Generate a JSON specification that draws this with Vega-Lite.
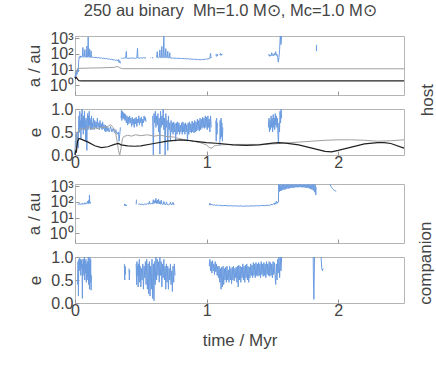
{
"$schema": "https://vega.github.io/schema/vega-lite/v6.json",
"background": "white",
"padding": {"left": 24, "top": 3, "right": 0, "bottom": 2},
"config": {
  "font": "Liberation Sans",
  "view": {"stroke": "#b5b5b5", "strokeWidth": 1},
  "axis": {"domain": false, "grid": false, "tickColor": "#9a9a9a", "tickSize": -4, "labelFont": "Liberation Sans", "labelFontSize": 16, "labelColor": "#444", "titleFont": "Liberation Sans", "titleFontSize": 17, "titleFontWeight": "normal", "titleColor": "#444", "labelPadding": 6, "titlePadding": 6, "labelFlush": false, "labelOverlap": false},
  "line": {"strokeWidth": 1, "clip": true}
},
"title": {"text": "250 au binary\u00a0 Mh=1.0 M⊙, Mc=1.0 M⊙", "anchor": "middle", "fontSize": 16.5, "fontWeight": "normal", "color": "#444", "font": "Liberation Sans", "offset": 10},
"spacing": 6,
"datasets": {
"hba": [
{"g":1,"t":0,"v":3},{"g":1,"t":0.004,"v":6},{"g":1,"t":0.008,"v":4},{"g":1,"t":0.012,"v":9},{"g":1,"t":0.016,"v":5},{"g":1,"t":0.02,"v":12},{"g":1,"t":0.024,"v":7},{"g":1,"t":0.028,"v":35},{"g":1,"t":0.032,"v":65},{"g":1,"t":0.036,"v":58},{"g":1,"t":0.04,"v":75},{"g":1,"t":0.044,"v":60},{"g":1,"t":0.048,"v":70},{"g":1,"t":0.052,"v":62},{"g":1,"t":0.056,"v":68},{"g":1,"t":0.06,"v":260},{"g":1,"t":0.063,"v":66},{"g":1,"t":0.067,"v":60},{"g":1,"t":0.071,"v":72},{"g":1,"t":0.075,"v":190},{"g":1,"t":0.078,"v":64},{"g":1,"t":0.082,"v":70},{"g":1,"t":0.086,"v":60},{"g":1,"t":0.09,"v":320},{"g":1,"t":0.093,"v":66},{"g":1,"t":0.097,"v":62},{"g":1,"t":0.1,"v":1200},{"g":1,"t":0.103,"v":68},{"g":1,"t":0.107,"v":60},{"g":1,"t":0.111,"v":210},{"g":1,"t":0.114,"v":66},{"g":1,"t":0.118,"v":60},{"g":1,"t":0.122,"v":160},{"g":1,"t":0.125,"v":64},{"g":1,"t":0.13,"v":58},{"g":1,"t":0.135,"v":66},{"g":1,"t":0.14,"v":60},{"g":1,"t":0.145,"v":64},{"g":1,"t":0.15,"v":57},{"g":1,"t":0.16,"v":62},{"g":1,"t":0.17,"v":56},{"g":1,"t":0.18,"v":60},{"g":1,"t":0.19,"v":54},{"g":1,"t":0.2,"v":57},{"g":1,"t":0.21,"v":51},{"g":1,"t":0.22,"v":54},{"g":1,"t":0.23,"v":49},{"g":1,"t":0.24,"v":52},{"g":1,"t":0.25,"v":47},{"g":1,"t":0.26,"v":49},{"g":1,"t":0.27,"v":44},{"g":1,"t":0.28,"v":46},{"g":1,"t":0.29,"v":41},{"g":1,"t":0.3,"v":43},{"g":1,"t":0.31,"v":39},{"g":1,"t":0.32,"v":41},{"g":1,"t":0.325,"v":36},{"g":1,"t":0.33,"v":44},{"g":1,"t":0.335,"v":28},{"g":1,"t":0.34,"v":38},{"g":1,"t":0.345,"v":25},
{"g":2,"t":0.35,"v":50},{"g":2,"t":0.355,"v":55},{"g":2,"t":0.36,"v":52},{"g":2,"t":0.365,"v":57},{"g":2,"t":0.37,"v":53},{"g":2,"t":0.375,"v":56},{"g":2,"t":0.38,"v":52},{"g":2,"t":0.385,"v":55},{"g":2,"t":0.39,"v":145},{"g":2,"t":0.393,"v":54},{"g":2,"t":0.4,"v":51},{"g":2,"t":0.41,"v":55},{"g":2,"t":0.42,"v":52},{"g":2,"t":0.43,"v":57},{"g":2,"t":0.44,"v":53},{"g":2,"t":0.45,"v":55},{"g":2,"t":0.46,"v":51},{"g":2,"t":0.47,"v":56},{"g":2,"t":0.475,"v":230},{"g":2,"t":0.478,"v":55},{"g":2,"t":0.49,"v":53},{"g":2,"t":0.5,"v":57},{"g":2,"t":0.51,"v":54},{"g":2,"t":0.52,"v":58},{"g":2,"t":0.53,"v":55},{"g":2,"t":0.54,"v":58},
{"g":3,"t":0.57,"v":55},{"g":3,"t":0.575,"v":58},
{"g":4,"t":0.585,"v":56},{"g":4,"t":0.595,"v":58},
{"g":5,"t":0.62,"v":58},{"g":5,"t":0.625,"v":140},{"g":5,"t":0.628,"v":60},{"g":5,"t":0.635,"v":56},{"g":5,"t":0.64,"v":62},{"g":5,"t":0.645,"v":180},{"g":5,"t":0.648,"v":60},{"g":5,"t":0.655,"v":57},{"g":5,"t":0.66,"v":300},{"g":5,"t":0.663,"v":62},{"g":5,"t":0.67,"v":58},{"g":5,"t":0.675,"v":1400},{"g":5,"t":0.678,"v":62},{"g":5,"t":0.685,"v":57},{"g":5,"t":0.69,"v":220},{"g":5,"t":0.693,"v":60},{"g":5,"t":0.7,"v":56},{"g":5,"t":0.705,"v":150},{"g":5,"t":0.708,"v":58},{"g":5,"t":0.715,"v":55},{"g":5,"t":0.72,"v":120},{"g":5,"t":0.723,"v":56},{"g":5,"t":0.73,"v":54},{"g":5,"t":0.74,"v":56},{"g":5,"t":0.75,"v":53},{"g":5,"t":0.76,"v":55},{"g":5,"t":0.77,"v":52},{"g":5,"t":0.78,"v":54},{"g":5,"t":0.79,"v":51},{"g":5,"t":0.8,"v":53},{"g":5,"t":0.81,"v":50},{"g":5,"t":0.82,"v":52},{"g":5,"t":0.83,"v":49},{"g":5,"t":0.84,"v":51},{"g":5,"t":0.85,"v":48},{"g":5,"t":0.86,"v":50},{"g":5,"t":0.87,"v":47},{"g":5,"t":0.88,"v":48},{"g":5,"t":0.89,"v":45},{"g":5,"t":0.9,"v":47},{"g":5,"t":0.91,"v":44},{"g":5,"t":0.92,"v":46},{"g":5,"t":0.93,"v":43},{"g":5,"t":0.94,"v":45},{"g":5,"t":0.95,"v":42},{"g":5,"t":0.96,"v":44},{"g":5,"t":0.97,"v":43},{"g":5,"t":0.98,"v":46},{"g":5,"t":0.99,"v":45},{"g":5,"t":1.0,"v":48},{"g":5,"t":1.01,"v":47},{"g":5,"t":1.02,"v":52},{"g":5,"t":1.025,"v":50},{"g":5,"t":1.03,"v":110},{"g":5,"t":1.033,"v":55},{"g":5,"t":1.035,"v":60},
{"g":6,"t":1.07,"v":95},{"g":6,"t":1.075,"v":70},{"g":6,"t":1.08,"v":100},{"g":6,"t":1.085,"v":75},
{"g":7,"t":1.1,"v":85},{"g":7,"t":1.105,"v":110},{"g":7,"t":1.11,"v":80},{"g":7,"t":1.115,"v":100},{"g":7,"t":1.12,"v":90},
{"g":8,"t":1.47,"v":80},{"g":8,"t":1.475,"v":95},{"g":8,"t":1.48,"v":70},{"g":8,"t":1.485,"v":85},{"g":8,"t":1.49,"v":75},{"g":8,"t":1.495,"v":120},{"g":8,"t":1.5,"v":80},{"g":8,"t":1.505,"v":90},{"g":8,"t":1.51,"v":75},{"g":8,"t":1.515,"v":110},{"g":8,"t":1.52,"v":85},{"g":8,"t":1.525,"v":140},{"g":8,"t":1.53,"v":80},{"g":8,"t":1.535,"v":95},{"g":8,"t":1.54,"v":60},{"g":8,"t":1.545,"v":30},{"g":8,"t":1.55,"v":60},{"g":8,"t":1.555,"v":200},{"g":8,"t":1.56,"v":1400},{"g":8,"t":1.565,"v":400},{"g":8,"t":1.57,"v":1400},
{"g":9,"t":1.835,"v":150},{"g":9,"t":1.836,"v":380}
],
"hga": [
{"t":0,"v":6},{"t":0.01,"v":8},{"t":0.02,"v":11},{"t":0.03,"v":12},{"t":0.1,"v":12.5},{"t":0.2,"v":13},{"t":0.3,"v":14},{"t":0.325,"v":16},{"t":0.34,"v":13},{"t":0.36,"v":11.5},{"t":0.5,"v":11.5},{"t":1.0,"v":11.3},{"t":1.5,"v":11.3},{"t":2.0,"v":11.3},{"t":2.5,"v":11.3}
],
"hka": [
{"t":0,"v":3.5},{"t":0.005,"v":2.8},{"t":0.01,"v":3.2},{"t":0.02,"v":2.4},{"t":0.03,"v":2.0},{"t":0.05,"v":1.9},{"t":2.5,"v":1.9}
],
"hbe": [
{"g":1,"t":0,"v":0},{"g":1,"t":0.003,"v":0.3},{"g":1,"t":0.006,"v":0.05},{"g":1,"t":0.009,"v":0.45},{"g":1,"t":0.012,"v":0.1},{"g":1,"t":0.015,"v":0.5},{"g":1,"t":0.018,"v":0.2},{"g":1,"t":0.021,"v":0.4},{"g":1,"t":0.024,"v":0.15},{"g":1,"t":0.027,"v":0.6},{"g":1,"t":0.03,"v":0.85},{"g":1,"t":0.033,"v":0.5},{"g":1,"t":0.036,"v":0.95},{"g":1,"t":0.039,"v":0.6},{"g":1,"t":0.042,"v":0.75},{"g":1,"t":0.045,"v":0.35},{"g":1,"t":0.048,"v":0.9},{"g":1,"t":0.051,"v":0.55},{"g":1,"t":0.054,"v":1.0},{"g":1,"t":0.057,"v":0.6},{"g":1,"t":0.06,"v":0.8},{"g":1,"t":0.063,"v":0.45},{"g":1,"t":0.066,"v":0.85},{"g":1,"t":0.069,"v":0.6},{"g":1,"t":0.072,"v":0.95},{"g":1,"t":0.075,"v":0.55},{"g":1,"t":0.078,"v":0.75},{"g":1,"t":0.081,"v":0.3},{"g":1,"t":0.084,"v":0.8},{"g":1,"t":0.087,"v":0.6},{"g":1,"t":0.09,"v":0.1},{"g":1,"t":0.093,"v":0.7},{"g":1,"t":0.096,"v":0.9},{"g":1,"t":0.099,"v":0.55},{"g":1,"t":0.102,"v":0.85},{"g":1,"t":0.105,"v":0.6},{"g":1,"t":0.108,"v":0.95},{"g":1,"t":0.111,"v":0.65},{"g":1,"t":0.114,"v":0.8},{"g":1,"t":0.117,"v":0.55},{"g":1,"t":0.12,"v":0.75},{"g":1,"t":0.123,"v":0.6},{"g":1,"t":0.126,"v":0.85},{"g":1,"t":0.129,"v":0.55},{"g":1,"t":0.132,"v":0.7},{"g":1,"t":0.135,"v":0.6},{"g":1,"t":0.14,"v":0.8},{"g":1,"t":0.145,"v":0.55},{"g":1,"t":0.15,"v":0.75},{"g":1,"t":0.155,"v":0.6},{"g":1,"t":0.16,"v":0.72},{"g":1,"t":0.165,"v":0.58},{"g":1,"t":0.17,"v":0.8},{"g":1,"t":0.175,"v":0.6},{"g":1,"t":0.18,"v":0.7},{"g":1,"t":0.185,"v":0.55},{"g":1,"t":0.19,"v":0.75},{"g":1,"t":0.195,"v":0.6},{"g":1,"t":0.2,"v":0.68},{"g":1,"t":0.205,"v":0.55},{"g":1,"t":0.21,"v":0.72},{"g":1,"t":0.215,"v":0.57},{"g":1,"t":0.22,"v":0.66},{"g":1,"t":0.225,"v":0.52},{"g":1,"t":0.23,"v":0.65},{"g":1,"t":0.235,"v":0.5},{"g":1,"t":0.24,"v":0.62},{"g":1,"t":0.245,"v":0.52},{"g":1,"t":0.25,"v":0.6},{"g":1,"t":0.26,"v":0.5},{"g":1,"t":0.27,"v":0.62},{"g":1,"t":0.28,"v":0.5},{"g":1,"t":0.29,"v":0.58},{"g":1,"t":0.3,"v":0.48},{"g":1,"t":0.31,"v":0.55},{"g":1,"t":0.32,"v":0.45},{"g":1,"t":0.33,"v":0.5},{"g":1,"t":0.335,"v":0.3},{"g":1,"t":0.34,"v":0.45},{"g":1,"t":0.345,"v":0.6},
{"g":2,"t":0.35,"v":0.8},{"g":2,"t":0.353,"v":0.97},{"g":2,"t":0.356,"v":0.75},{"g":2,"t":0.36,"v":0.95},{"g":2,"t":0.364,"v":0.8},{"g":2,"t":0.368,"v":0.92},{"g":2,"t":0.372,"v":0.78},{"g":2,"t":0.376,"v":0.9},{"g":2,"t":0.38,"v":0.75},{"g":2,"t":0.385,"v":0.88},{"g":2,"t":0.39,"v":0.7},{"g":2,"t":0.395,"v":0.85},{"g":2,"t":0.4,"v":0.65},{"g":2,"t":0.405,"v":0.82},{"g":2,"t":0.41,"v":0.68},{"g":2,"t":0.415,"v":0.85},{"g":2,"t":0.42,"v":0.7},{"g":2,"t":0.425,"v":0.8},{"g":2,"t":0.43,"v":0.62},{"g":2,"t":0.435,"v":0.82},{"g":2,"t":0.44,"v":0.66},{"g":2,"t":0.445,"v":0.78},{"g":2,"t":0.45,"v":0.6},{"g":2,"t":0.455,"v":0.8},{"g":2,"t":0.46,"v":0.68},{"g":2,"t":0.465,"v":0.82},{"g":2,"t":0.47,"v":0.62},{"g":2,"t":0.475,"v":0.78},{"g":2,"t":0.48,"v":0.7},{"g":2,"t":0.485,"v":0.85},{"g":2,"t":0.49,"v":0.65},{"g":2,"t":0.495,"v":0.8},{"g":2,"t":0.5,"v":0.7},{"g":2,"t":0.505,"v":0.83},{"g":2,"t":0.51,"v":0.62},{"g":2,"t":0.515,"v":0.78},{"g":2,"t":0.52,"v":0.7},{"g":2,"t":0.525,"v":0.85},{"g":2,"t":0.53,"v":0.75},{"g":2,"t":0.535,"v":0.82},{"g":2,"t":0.54,"v":0.72},
{"g":3,"t":0.59,"v":0.85},{"g":3,"t":0.595,"v":0.0},{"g":3,"t":0.6,"v":0.9},{"g":3,"t":0.605,"v":0.7},{"g":3,"t":0.61,"v":0.95},{"g":3,"t":0.615,"v":0.6},{"g":3,"t":0.62,"v":0.85},{"g":3,"t":0.625,"v":0.65},{"g":3,"t":0.63,"v":0.9},{"g":3,"t":0.635,"v":0.5},{"g":3,"t":0.64,"v":0.8},{"g":3,"t":0.645,"v":0.02},{"g":3,"t":0.65,"v":0.95},{"g":3,"t":0.655,"v":0.6},{"g":3,"t":0.66,"v":0.85},{"g":3,"t":0.665,"v":0.65},{"g":3,"t":0.67,"v":1.0},{"g":3,"t":0.675,"v":0.55},{"g":3,"t":0.68,"v":0.8},{"g":3,"t":0.685,"v":0.0},{"g":3,"t":0.69,"v":0.9},{"g":3,"t":0.695,"v":0.6},{"g":3,"t":0.7,"v":0.75},{"g":3,"t":0.705,"v":0.1},{"g":3,"t":0.71,"v":0.85},{"g":3,"t":0.715,"v":0.55},{"g":3,"t":0.72,"v":0.7},{"g":3,"t":0.725,"v":0.3},{"g":3,"t":0.73,"v":0.75},{"g":3,"t":0.735,"v":0.5},{"g":3,"t":0.74,"v":0.7},{"g":3,"t":0.745,"v":0.45},{"g":3,"t":0.75,"v":0.72},{"g":3,"t":0.755,"v":0.5},{"g":3,"t":0.76,"v":0.68},{"g":3,"t":0.765,"v":0.3},{"g":3,"t":0.77,"v":0.7},{"g":3,"t":0.775,"v":0.45},{"g":3,"t":0.78,"v":0.72},{"g":3,"t":0.785,"v":0.5},{"g":3,"t":0.79,"v":0.7},{"g":3,"t":0.795,"v":0.45},{"g":3,"t":0.8,"v":0.65},{"g":3,"t":0.805,"v":0.5},{"g":3,"t":0.81,"v":0.7},{"g":3,"t":0.815,"v":0.45},{"g":3,"t":0.82,"v":0.72},{"g":3,"t":0.825,"v":0.5},{"g":3,"t":0.83,"v":0.68},{"g":3,"t":0.835,"v":0.45},{"g":3,"t":0.84,"v":0.7},{"g":3,"t":0.845,"v":0.5},{"g":3,"t":0.85,"v":0.66},{"g":3,"t":0.855,"v":0.3},{"g":3,"t":0.86,"v":0.7},{"g":3,"t":0.865,"v":0.45},{"g":3,"t":0.87,"v":0.72},{"g":3,"t":0.875,"v":0.5},{"g":3,"t":0.88,"v":0.68},{"g":3,"t":0.885,"v":0.48},{"g":3,"t":0.89,"v":0.74},{"g":3,"t":0.895,"v":0.5},{"g":3,"t":0.9,"v":0.7},{"g":3,"t":0.905,"v":0.48},{"g":3,"t":0.91,"v":0.75},{"g":3,"t":0.915,"v":0.5},{"g":3,"t":0.92,"v":0.72},{"g":3,"t":0.925,"v":0.52},{"g":3,"t":0.93,"v":0.78},{"g":3,"t":0.935,"v":0.55},{"g":3,"t":0.94,"v":0.75},{"g":3,"t":0.945,"v":0.52},{"g":3,"t":0.95,"v":0.8},{"g":3,"t":0.955,"v":0.55},{"g":3,"t":0.96,"v":0.78},{"g":3,"t":0.965,"v":0.58},{"g":3,"t":0.97,"v":0.82},{"g":3,"t":0.975,"v":0.6},{"g":3,"t":0.98,"v":0.8},{"g":3,"t":0.985,"v":0.58},{"g":3,"t":0.99,"v":0.85},{"g":3,"t":0.995,"v":0.6},{"g":3,"t":1.0,"v":0.82},{"g":3,"t":1.005,"v":0.55},{"g":3,"t":1.01,"v":0.85},{"g":3,"t":1.015,"v":0.6},{"g":3,"t":1.02,"v":0.78},{"g":3,"t":1.025,"v":0.5},{"g":3,"t":1.03,"v":0.85},{"g":3,"t":1.035,"v":0.6},
{"g":4,"t":1.07,"v":0.75},{"g":4,"t":1.073,"v":0.3},{"g":4,"t":1.076,"v":0.8},{"g":4,"t":1.079,"v":0.45},{"g":4,"t":1.082,"v":0.7},
{"g":5,"t":1.1,"v":0.2},{"g":5,"t":1.103,"v":0.75},{"g":5,"t":1.106,"v":0.35},{"g":5,"t":1.11,"v":0.8},{"g":5,"t":1.113,"v":0.4},{"g":5,"t":1.116,"v":0.7},{"g":5,"t":1.12,"v":0.3},{"g":5,"t":1.123,"v":0.6},
{"g":6,"t":1.47,"v":0.6},{"g":6,"t":1.474,"v":0.8},{"g":6,"t":1.478,"v":0.5},{"g":6,"t":1.482,"v":0.75},{"g":6,"t":1.486,"v":0.55},{"g":6,"t":1.49,"v":0.85},{"g":6,"t":1.494,"v":0.6},{"g":6,"t":1.498,"v":0.8},{"g":6,"t":1.502,"v":0.5},{"g":6,"t":1.506,"v":0.88},{"g":6,"t":1.51,"v":0.6},{"g":6,"t":1.514,"v":0.8},{"g":6,"t":1.518,"v":0.55},{"g":6,"t":1.522,"v":0.9},{"g":6,"t":1.526,"v":0.65},{"g":6,"t":1.53,"v":0.85},{"g":6,"t":1.534,"v":0.6},{"g":6,"t":1.538,"v":0.8},{"g":6,"t":1.542,"v":0.45},{"g":6,"t":1.546,"v":0.25},{"g":6,"t":1.55,"v":0.7},{"g":6,"t":1.554,"v":0.5},{"g":6,"t":1.558,"v":0.95},{"g":6,"t":1.562,"v":0.7},{"g":6,"t":1.566,"v":1.0},{"g":6,"t":1.57,"v":0.8}
],
"hge": [
{"t":0,"v":0.05},{"t":0.01,"v":0.3},{"t":0.02,"v":0.5},{"t":0.03,"v":0.55},{"t":0.05,"v":0.58},{"t":0.07,"v":0.56},{"t":0.1,"v":0.6},{"t":0.13,"v":0.57},{"t":0.15,"v":0.59},{"t":0.18,"v":0.57},{"t":0.2,"v":0.6},{"t":0.23,"v":0.6},{"t":0.25,"v":0.62},{"t":0.27,"v":0.66},{"t":0.29,"v":0.6},{"t":0.3,"v":0.55},{"t":0.31,"v":0.45},{"t":0.32,"v":0.3},{"t":0.33,"v":0.1},{"t":0.34,"v":0.0},{"t":0.35,"v":0.15},{"t":0.36,"v":0.35},{"t":0.37,"v":0.4},{"t":0.4,"v":0.43},{"t":0.43,"v":0.41},{"t":0.46,"v":0.44},{"t":0.5,"v":0.42},{"t":0.55,"v":0.44},{"t":0.6,"v":0.41},{"t":0.65,"v":0.43},{"t":0.7,"v":0.4},{"t":0.75,"v":0.39},{"t":0.8,"v":0.35},{"t":0.9,"v":0.3},{"t":0.95,"v":0.27},{"t":1.0,"v":0.22},{"t":1.02,"v":0.16},{"t":1.04,"v":0.15},{"t":1.06,"v":0.2},{"t":1.1,"v":0.22},{"t":1.2,"v":0.23},{"t":1.3,"v":0.23},{"t":1.4,"v":0.23},{"t":1.5,"v":0.24},{"t":1.55,"v":0.25},{"t":1.6,"v":0.26},{"t":1.7,"v":0.28},{"t":1.8,"v":0.3},{"t":1.9,"v":0.32},{"t":2.0,"v":0.33},{"t":2.1,"v":0.33},{"t":2.2,"v":0.32},{"t":2.3,"v":0.3},{"t":2.4,"v":0.31},{"t":2.5,"v":0.33}
],
"hke": [
{"t":0,"v":0.0},{"t":0.005,"v":0.1},{"t":0.01,"v":0.05},{"t":0.015,"v":0.2},{"t":0.02,"v":0.3},{"t":0.03,"v":0.36},{"t":0.05,"v":0.34},{"t":0.1,"v":0.28},{"t":0.15,"v":0.2},{"t":0.2,"v":0.16},{"t":0.25,"v":0.18},{"t":0.3,"v":0.23},{"t":0.33,"v":0.25},{"t":0.35,"v":0.22},{"t":0.4,"v":0.2},{"t":0.45,"v":0.19},{"t":0.5,"v":0.2},{"t":0.6,"v":0.25},{"t":0.7,"v":0.3},{"t":0.8,"v":0.33},{"t":0.85,"v":0.32},{"t":0.9,"v":0.3},{"t":1.0,"v":0.27},{"t":1.1,"v":0.25},{"t":1.2,"v":0.22},{"t":1.3,"v":0.21},{"t":1.4,"v":0.22},{"t":1.5,"v":0.26},{"t":1.55,"v":0.27},{"t":1.6,"v":0.26},{"t":1.7,"v":0.22},{"t":1.8,"v":0.15},{"t":1.9,"v":0.08},{"t":1.95,"v":0.07},{"t":2.0,"v":0.1},{"t":2.1,"v":0.17},{"t":2.2,"v":0.24},{"t":2.3,"v":0.27},{"t":2.35,"v":0.27},{"t":2.4,"v":0.25},{"t":2.5,"v":0.15}
],
"cba": [
{"g":1,"t":0.02,"v":70},{"g":1,"t":0.025,"v":75},{"g":1,"t":0.03,"v":68},{"g":1,"t":0.035,"v":80},{"g":1,"t":0.04,"v":70},{"g":1,"t":0.045,"v":75},{"g":1,"t":0.05,"v":72},{"g":1,"t":0.055,"v":85},{"g":1,"t":0.06,"v":70},{"g":1,"t":0.065,"v":78},{"g":1,"t":0.07,"v":72},{"g":1,"t":0.075,"v":90},{"g":1,"t":0.08,"v":74},{"g":1,"t":0.085,"v":80},{"g":1,"t":0.09,"v":76},{"g":1,"t":0.095,"v":110},{"g":1,"t":0.1,"v":78},{"g":1,"t":0.105,"v":130},{"g":1,"t":0.108,"v":80},{"g":1,"t":0.11,"v":280},{"g":1,"t":0.112,"v":85},{"g":1,"t":0.115,"v":100},{"g":1,"t":0.12,"v":80},
{"g":2,"t":0.375,"v":60},{"g":2,"t":0.378,"v":75},{"g":2,"t":0.381,"v":55},{"g":2,"t":0.384,"v":70},
{"g":3,"t":0.39,"v":55},{"g":3,"t":0.393,"v":65},
{"g":4,"t":0.465,"v":70},{"g":4,"t":0.467,"v":140},
{"g":5,"t":0.48,"v":70},{"g":5,"t":0.49,"v":75},{"g":5,"t":0.5,"v":68},{"g":5,"t":0.51,"v":72},{"g":5,"t":0.52,"v":66},{"g":5,"t":0.53,"v":74},{"g":5,"t":0.54,"v":70},{"g":5,"t":0.55,"v":78},{"g":5,"t":0.56,"v":72},{"g":5,"t":0.565,"v":110},{"g":5,"t":0.57,"v":74},{"g":5,"t":0.58,"v":80},{"g":5,"t":0.59,"v":75},{"g":5,"t":0.595,"v":140},{"g":5,"t":0.6,"v":78},{"g":5,"t":0.605,"v":120},{"g":5,"t":0.61,"v":85},{"g":5,"t":0.615,"v":170},{"g":5,"t":0.62,"v":80},{"g":5,"t":0.625,"v":130},{"g":5,"t":0.63,"v":78},{"g":5,"t":0.635,"v":150},{"g":5,"t":0.64,"v":75},{"g":5,"t":0.645,"v":110},{"g":5,"t":0.65,"v":72},{"g":5,"t":0.655,"v":130},{"g":5,"t":0.66,"v":75},{"g":5,"t":0.67,"v":70},{"g":5,"t":0.675,"v":110},{"g":5,"t":0.68,"v":72},{"g":5,"t":0.69,"v":68},{"g":5,"t":0.695,"v":100},{"g":5,"t":0.7,"v":70},{"g":5,"t":0.71,"v":66},{"g":5,"t":0.72,"v":72},{"g":5,"t":0.725,"v":95},{"g":5,"t":0.73,"v":68},{"g":5,"t":0.74,"v":70},{"g":5,"t":0.745,"v":95},{"g":5,"t":0.75,"v":66},{"g":5,"t":0.755,"v":70},
{"g":6,"t":1.02,"v":62},{"g":6,"t":1.025,"v":85},{"g":6,"t":1.03,"v":65},{"g":6,"t":1.04,"v":70},{"g":6,"t":1.05,"v":62},{"g":6,"t":1.06,"v":66},{"g":6,"t":1.07,"v":60},{"g":6,"t":1.08,"v":64},{"g":6,"t":1.09,"v":58},{"g":6,"t":1.1,"v":62},{"g":6,"t":1.12,"v":57},{"g":6,"t":1.14,"v":60},{"g":6,"t":1.16,"v":56},{"g":6,"t":1.18,"v":58},{"g":6,"t":1.2,"v":55},{"g":6,"t":1.22,"v":57},{"g":6,"t":1.24,"v":54},{"g":6,"t":1.26,"v":56},{"g":6,"t":1.28,"v":53},{"g":6,"t":1.3,"v":56},{"g":6,"t":1.32,"v":54},{"g":6,"t":1.34,"v":57},{"g":6,"t":1.36,"v":55},{"g":6,"t":1.38,"v":58},{"g":6,"t":1.4,"v":56},{"g":6,"t":1.42,"v":60},{"g":6,"t":1.44,"v":58},{"g":6,"t":1.46,"v":62},{"g":6,"t":1.48,"v":60},{"g":6,"t":1.49,"v":70},{"g":6,"t":1.5,"v":65},{"g":6,"t":1.51,"v":80},{"g":6,"t":1.515,"v":68},{"g":6,"t":1.52,"v":90},{"g":6,"t":1.525,"v":72},{"g":6,"t":1.53,"v":110},{"g":6,"t":1.535,"v":80},{"g":6,"t":1.54,"v":100},{"g":6,"t":1.545,"v":90},
{"g":7,"t":1.546,"v":100},{"g":7,"t":1.548,"v":1300},{"g":7,"t":1.552,"v":450},{"g":7,"t":1.556,"v":1300},{"g":7,"t":1.56,"v":500},{"g":7,"t":1.565,"v":1300},{"g":7,"t":1.57,"v":540},{"g":7,"t":1.575,"v":1300},{"g":7,"t":1.58,"v":580},{"g":7,"t":1.585,"v":1300},{"g":7,"t":1.59,"v":620},{"g":7,"t":1.595,"v":1300},{"g":7,"t":1.6,"v":650},{"g":7,"t":1.605,"v":1300},{"g":7,"t":1.61,"v":690},{"g":7,"t":1.615,"v":1300},{"g":7,"t":1.62,"v":720},{"g":7,"t":1.625,"v":1300},{"g":7,"t":1.63,"v":750},{"g":7,"t":1.635,"v":1300},{"g":7,"t":1.64,"v":780},{"g":7,"t":1.645,"v":1300},{"g":7,"t":1.65,"v":800},{"g":7,"t":1.655,"v":1300},{"g":7,"t":1.66,"v":820},{"g":7,"t":1.665,"v":1300},{"g":7,"t":1.67,"v":840},{"g":7,"t":1.675,"v":1300},{"g":7,"t":1.68,"v":860},{"g":7,"t":1.685,"v":1300},{"g":7,"t":1.69,"v":870},{"g":7,"t":1.695,"v":1300},{"g":7,"t":1.7,"v":880},{"g":7,"t":1.705,"v":1300},{"g":7,"t":1.71,"v":880},{"g":7,"t":1.715,"v":1300},{"g":7,"t":1.72,"v":870},{"g":7,"t":1.725,"v":1300},{"g":7,"t":1.73,"v":860},{"g":7,"t":1.735,"v":1300},{"g":7,"t":1.74,"v":850},{"g":7,"t":1.745,"v":1300},{"g":7,"t":1.75,"v":830},{"g":7,"t":1.755,"v":1300},{"g":7,"t":1.76,"v":800},{"g":7,"t":1.765,"v":1300},{"g":7,"t":1.77,"v":770},{"g":7,"t":1.775,"v":1300},{"g":7,"t":1.78,"v":730},{"g":7,"t":1.785,"v":1300},{"g":7,"t":1.79,"v":680},{"g":7,"t":1.795,"v":1300},{"g":7,"t":1.8,"v":620},{"g":7,"t":1.805,"v":1300},{"g":7,"t":1.81,"v":550},{"g":7,"t":1.815,"v":1300},{"g":7,"t":1.82,"v":420},{"g":7,"t":1.825,"v":1300},{"g":7,"t":1.83,"v":280},{"g":7,"t":1.832,"v":900},
{"g":8,"t":1.937,"v":1400},{"g":8,"t":1.945,"v":1000},{"g":8,"t":1.955,"v":750},{"g":8,"t":1.965,"v":600},{"g":8,"t":1.975,"v":520},{"g":8,"t":1.985,"v":480}
],
"cbe": [
{"g":1,"t":0.02,"v":0.4},{"g":1,"t":0.023,"v":0.9},{"g":1,"t":0.026,"v":0.15},{"g":1,"t":0.029,"v":0.95},{"g":1,"t":0.032,"v":0.7},{"g":1,"t":0.035,"v":0.98},{"g":1,"t":0.038,"v":0.8},{"g":1,"t":0.041,"v":0.95},{"g":1,"t":0.044,"v":0.6},{"g":1,"t":0.047,"v":0.92},{"g":1,"t":0.05,"v":0.75},{"g":1,"t":0.053,"v":0.95},{"g":1,"t":0.056,"v":0.1},{"g":1,"t":0.059,"v":0.85},{"g":1,"t":0.062,"v":0.6},{"g":1,"t":0.065,"v":0.95},{"g":1,"t":0.068,"v":0.7},{"g":1,"t":0.071,"v":1.0},{"g":1,"t":0.074,"v":0.5},{"g":1,"t":0.077,"v":0.9},{"g":1,"t":0.08,"v":0.65},{"g":1,"t":0.083,"v":0.95},{"g":1,"t":0.086,"v":0.45},{"g":1,"t":0.089,"v":0.85},{"g":1,"t":0.092,"v":0.5},{"g":1,"t":0.095,"v":0.9},{"g":1,"t":0.098,"v":0.55},{"g":1,"t":0.101,"v":1.0},{"g":1,"t":0.104,"v":0.4},{"g":1,"t":0.107,"v":0.9},{"g":1,"t":0.11,"v":0.3},{"g":1,"t":0.113,"v":1.0},{"g":1,"t":0.116,"v":0.45},{"g":1,"t":0.119,"v":0.95},{"g":1,"t":0.122,"v":0.28},{"g":1,"t":0.125,"v":0.6},
{"g":2,"t":0.375,"v":0.85},{"g":2,"t":0.378,"v":0.5},{"g":2,"t":0.381,"v":0.8},{"g":2,"t":0.384,"v":0.62},
{"g":3,"t":0.41,"v":0.75},{"g":3,"t":0.413,"v":0.5},{"g":3,"t":0.416,"v":0.72},
{"g":4,"t":0.465,"v":0.85},{"g":4,"t":0.468,"v":0.4},{"g":4,"t":0.471,"v":0.9},{"g":4,"t":0.474,"v":0.6},{"g":4,"t":0.477,"v":0.8},{"g":4,"t":0.48,"v":0.35},{"g":4,"t":0.483,"v":0.85},{"g":4,"t":0.486,"v":0.6},{"g":4,"t":0.489,"v":0.95},{"g":4,"t":0.492,"v":0.45},{"g":4,"t":0.495,"v":0.8},{"g":4,"t":0.5,"v":0.35},{"g":4,"t":0.505,"v":0.75},{"g":4,"t":0.51,"v":0.5},{"g":4,"t":0.515,"v":0.85},{"g":4,"t":0.52,"v":0.3},{"g":4,"t":0.525,"v":0.8},{"g":4,"t":0.53,"v":0.55},{"g":4,"t":0.535,"v":0.9},{"g":4,"t":0.54,"v":0.4},{"g":4,"t":0.545,"v":0.95},{"g":4,"t":0.55,"v":0.3},{"g":4,"t":0.555,"v":0.85},{"g":4,"t":0.56,"v":0.2},{"g":4,"t":0.565,"v":0.9},{"g":4,"t":0.57,"v":0.15},{"g":4,"t":0.575,"v":0.8},{"g":4,"t":0.58,"v":0.3},{"g":4,"t":0.585,"v":0.95},{"g":4,"t":0.59,"v":0.1},{"g":4,"t":0.595,"v":0.85},{"g":4,"t":0.6,"v":0.05},{"g":4,"t":0.605,"v":0.9},{"g":4,"t":0.61,"v":0.4},{"g":4,"t":0.615,"v":1.0},{"g":4,"t":0.62,"v":0.5},{"g":4,"t":0.625,"v":0.95},{"g":4,"t":0.63,"v":0.6},{"g":4,"t":0.635,"v":0.9},{"g":4,"t":0.64,"v":0.45},{"g":4,"t":0.645,"v":1.0},{"g":4,"t":0.65,"v":0.6},{"g":4,"t":0.655,"v":0.9},{"g":4,"t":0.66,"v":0.35},{"g":4,"t":0.665,"v":0.85},{"g":4,"t":0.67,"v":0.55},{"g":4,"t":0.675,"v":0.95},{"g":4,"t":0.68,"v":0.5},{"g":4,"t":0.685,"v":0.8},{"g":4,"t":0.69,"v":0.3},{"g":4,"t":0.695,"v":0.85},{"g":4,"t":0.7,"v":0.45},{"g":4,"t":0.705,"v":0.8},{"g":4,"t":0.71,"v":0.3},{"g":4,"t":0.715,"v":0.75},{"g":4,"t":0.72,"v":0.5},{"g":4,"t":0.725,"v":0.85},{"g":4,"t":0.73,"v":0.4},{"g":4,"t":0.735,"v":0.7},{"g":4,"t":0.74,"v":0.25},{"g":4,"t":0.745,"v":0.8},{"g":4,"t":0.75,"v":0.45},{"g":4,"t":0.755,"v":0.85},{"g":4,"t":0.76,"v":0.6},
{"g":5,"t":1.02,"v":0.8},{"g":5,"t":1.025,"v":0.95},{"g":5,"t":1.03,"v":0.7},{"g":5,"t":1.035,"v":0.9},{"g":5,"t":1.04,"v":0.65},{"g":5,"t":1.045,"v":0.92},{"g":5,"t":1.05,"v":0.7},{"g":5,"t":1.055,"v":0.85},{"g":5,"t":1.06,"v":0.62},{"g":5,"t":1.065,"v":0.9},{"g":5,"t":1.07,"v":0.68},{"g":5,"t":1.075,"v":0.85},{"g":5,"t":1.08,"v":0.6},{"g":5,"t":1.085,"v":0.8},{"g":5,"t":1.09,"v":0.55},{"g":5,"t":1.095,"v":0.8},{"g":5,"t":1.1,"v":0.45},{"g":5,"t":1.105,"v":0.75},{"g":5,"t":1.11,"v":0.3},{"g":5,"t":1.115,"v":0.78},{"g":5,"t":1.12,"v":0.35},{"g":5,"t":1.125,"v":0.8},{"g":5,"t":1.13,"v":0.4},{"g":5,"t":1.135,"v":0.75},{"g":5,"t":1.14,"v":0.5},{"g":5,"t":1.145,"v":0.78},{"g":5,"t":1.15,"v":0.45},{"g":5,"t":1.155,"v":0.8},{"g":5,"t":1.16,"v":0.5},{"g":5,"t":1.165,"v":0.72},{"g":5,"t":1.17,"v":0.45},{"g":5,"t":1.175,"v":0.8},{"g":5,"t":1.18,"v":0.5},{"g":5,"t":1.185,"v":0.75},{"g":5,"t":1.19,"v":0.42},{"g":5,"t":1.195,"v":0.78},{"g":5,"t":1.2,"v":0.5},{"g":5,"t":1.205,"v":0.8},{"g":5,"t":1.21,"v":0.48},{"g":5,"t":1.215,"v":0.75},{"g":5,"t":1.22,"v":0.55},{"g":5,"t":1.225,"v":0.78},{"g":5,"t":1.23,"v":0.45},{"g":5,"t":1.235,"v":0.8},{"g":5,"t":1.24,"v":0.35},{"g":5,"t":1.245,"v":0.82},{"g":5,"t":1.25,"v":0.5},{"g":5,"t":1.255,"v":0.8},{"g":5,"t":1.26,"v":0.45},{"g":5,"t":1.265,"v":0.78},{"g":5,"t":1.27,"v":0.55},{"g":5,"t":1.275,"v":0.85},{"g":5,"t":1.28,"v":0.5},{"g":5,"t":1.285,"v":0.8},{"g":5,"t":1.29,"v":0.45},{"g":5,"t":1.295,"v":0.82},{"g":5,"t":1.3,"v":0.55},{"g":5,"t":1.305,"v":0.85},{"g":5,"t":1.31,"v":0.5},{"g":5,"t":1.315,"v":0.8},{"g":5,"t":1.32,"v":0.45},{"g":5,"t":1.325,"v":0.78},{"g":5,"t":1.33,"v":0.55},{"g":5,"t":1.335,"v":0.85},{"g":5,"t":1.34,"v":0.6},{"g":5,"t":1.345,"v":0.82},{"g":5,"t":1.35,"v":0.55},{"g":5,"t":1.355,"v":0.88},{"g":5,"t":1.36,"v":0.6},{"g":5,"t":1.365,"v":0.85},{"g":5,"t":1.37,"v":0.55},{"g":5,"t":1.375,"v":0.88},{"g":5,"t":1.38,"v":0.6},{"g":5,"t":1.385,"v":0.85},{"g":5,"t":1.39,"v":0.58},{"g":5,"t":1.395,"v":0.88},{"g":5,"t":1.4,"v":0.6},{"g":5,"t":1.405,"v":0.85},{"g":5,"t":1.41,"v":0.55},{"g":5,"t":1.415,"v":0.9},{"g":5,"t":1.42,"v":0.62},{"g":5,"t":1.425,"v":0.85},{"g":5,"t":1.43,"v":0.58},{"g":5,"t":1.435,"v":0.88},{"g":5,"t":1.44,"v":0.6},{"g":5,"t":1.445,"v":0.85},{"g":5,"t":1.45,"v":0.55},{"g":5,"t":1.455,"v":0.9},{"g":5,"t":1.46,"v":0.62},{"g":5,"t":1.465,"v":0.85},{"g":5,"t":1.47,"v":0.6},{"g":5,"t":1.475,"v":0.9},{"g":5,"t":1.48,"v":0.58},{"g":5,"t":1.485,"v":0.88},{"g":5,"t":1.49,"v":0.6},{"g":5,"t":1.495,"v":0.85},{"g":5,"t":1.5,"v":0.55},{"g":5,"t":1.505,"v":0.9},{"g":5,"t":1.51,"v":0.62},{"g":5,"t":1.515,"v":0.88},{"g":5,"t":1.52,"v":0.6},{"g":5,"t":1.525,"v":0.4},{"g":5,"t":1.53,"v":0.85},{"g":5,"t":1.535,"v":0.5},{"g":5,"t":1.54,"v":0.95},{"g":5,"t":1.545,"v":0.65},{"g":5,"t":1.55,"v":1.0},{"g":5,"t":1.555,"v":0.55},{"g":5,"t":1.56,"v":1.0},{"g":5,"t":1.565,"v":0.7},{"g":5,"t":1.57,"v":1.0},
{"g":6,"t":1.81,"v":1.0},{"g":6,"t":1.812,"v":0.5},{"g":6,"t":1.815,"v":0.08},{"g":6,"t":1.818,"v":0.6},{"g":6,"t":1.82,"v":1.0},
{"g":7,"t":1.87,"v":1.0},{"g":7,"t":1.875,"v":0.75},{"g":7,"t":1.88,"v":0.7},{"g":7,"t":1.885,"v":0.75}
]
},
"vconcat": [
{
 "title": {"text": "host", "orient": "right", "angle": 270, "baseline": "top", "anchor": "middle", "fontSize": 17, "fontWeight": "normal", "color": "#444", "font": "Liberation Sans", "offset": -4},
 "spacing": 4,
 "vconcat": [
  {
   "width": 329, "height": 59,
   "encoding": {
    "x": {"field": "t", "type": "quantitative", "scale": {"domain": [0, 2.5], "nice": false, "zero": false}, "axis": {"values": [0, 1, 2], "labels": false, "title": null}},
    "y": {"field": "v", "type": "quantitative", "scale": {"type": "log", "domain": [0.24, 1400], "nice": false}, "axis": {"values": [1, 10, 100, 1000], "labelExpr": "datum.value == 1 ? '10⁰' : datum.value == 10 ? '10¹' : datum.value == 100 ? '10²' : '10³'", "title": "a / au"}}
   },
   "layer": [
    {"data": {"name": "hba"}, "mark": {"type": "line", "color": "#6a9be0", "strokeWidth": 1}, "encoding": {"detail": {"field": "g"}}},
    {"data": {"name": "hga"}, "mark": {"type": "line", "color": "#a0a0a0", "strokeWidth": 1}},
    {"data": {"name": "hka"}, "mark": {"type": "line", "color": "#222", "strokeWidth": 1.2}}
   ]
  },
  {
   "width": 329, "height": 46,
   "encoding": {
    "x": {"field": "t", "type": "quantitative", "scale": {"domain": [0, 2.5], "nice": false, "zero": false}, "axis": {"values": [0, 1, 2], "format": "d", "title": null, "labelPadding": 3}},
    "y": {"field": "v", "type": "quantitative", "scale": {"domain": [0, 1], "nice": false}, "axis": {"values": [0, 0.5, 1], "format": ".1f", "title": "e"}}
   },
   "layer": [
    {"data": {"name": "hbe"}, "mark": {"type": "line", "color": "#6a9be0", "strokeWidth": 1}, "encoding": {"detail": {"field": "g"}}},
    {"data": {"name": "hge"}, "mark": {"type": "line", "color": "#a0a0a0", "strokeWidth": 1}},
    {"data": {"name": "hke"}, "mark": {"type": "line", "color": "#222", "strokeWidth": 1.2}}
   ]
  }
 ]
},
{
 "title": {"text": "companion", "orient": "right", "angle": 270, "baseline": "top", "anchor": "middle", "fontSize": 17, "fontWeight": "normal", "color": "#444", "font": "Liberation Sans", "offset": -4},
 "spacing": 4,
 "vconcat": [
  {
   "width": 329, "height": 59,
   "encoding": {
    "x": {"field": "t", "type": "quantitative", "scale": {"domain": [0, 2.5], "nice": false, "zero": false}, "axis": {"values": [0, 1, 2], "labels": false, "title": null}},
    "y": {"field": "v", "type": "quantitative", "scale": {"type": "log", "domain": [0.24, 1400], "nice": false}, "axis": {"values": [1, 10, 100, 1000], "labelExpr": "datum.value == 1 ? '10⁰' : datum.value == 10 ? '10¹' : datum.value == 100 ? '10²' : '10³'", "title": "a / au"}}
   },
   "layer": [
    {"data": {"name": "cba"}, "mark": {"type": "line", "color": "#6a9be0", "strokeWidth": 1}, "encoding": {"detail": {"field": "g"}}}
   ]
  },
  {
   "width": 329, "height": 46,
   "encoding": {
    "x": {"field": "t", "type": "quantitative", "scale": {"domain": [0, 2.5], "nice": false, "zero": false}, "axis": {"values": [0, 1, 2], "format": "d", "title": "time / Myr", "labelPadding": 3, "titlePadding": 14}},
    "y": {"field": "v", "type": "quantitative", "scale": {"domain": [0, 1], "nice": false}, "axis": {"values": [0, 0.5, 1], "format": ".1f", "title": "e"}}
   },
   "layer": [
    {"data": {"name": "cbe"}, "mark": {"type": "line", "color": "#6a9be0", "strokeWidth": 1}, "encoding": {"detail": {"field": "g"}}}
   ]
  }
 ]
}
]
}
